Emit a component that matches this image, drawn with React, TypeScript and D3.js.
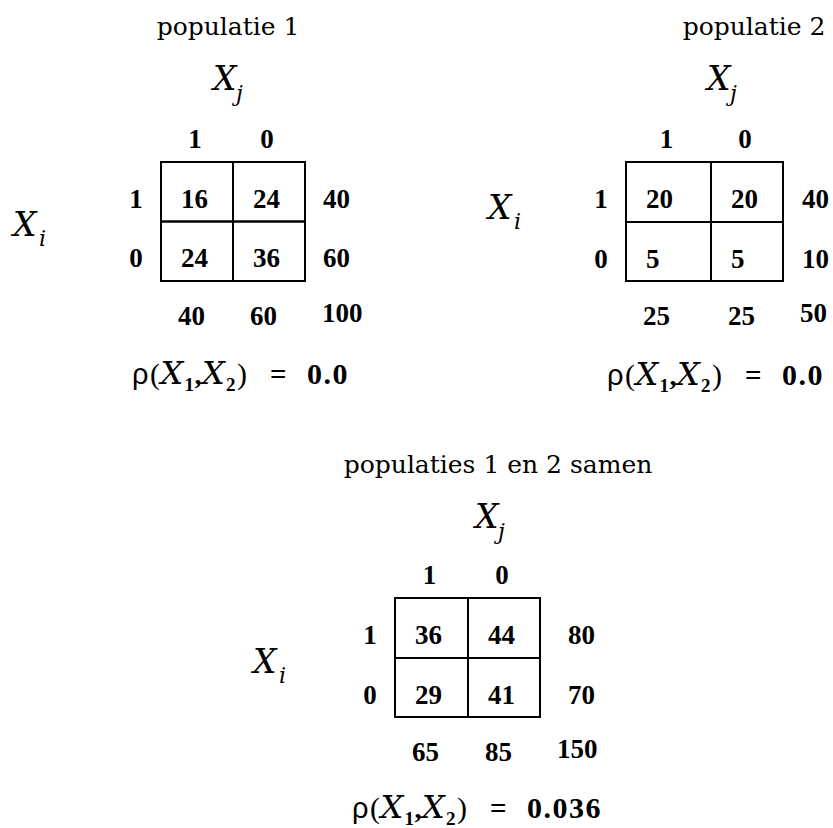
import { useEffect, useRef } from "react";
import * as d3 from "d3";

// categories of X_i (rows) and X_j (columns)
const rowCats = ["1", "0"];
const colCats = ["1", "0"];

const titles = ["populatie 1", "populatie 2", "populaties 1 en 2 samen"];

// cell counts per panel [row][col]
const pop1Counts = [
  [16, 24],
  [24, 36],
];
const pop2Counts = [
  [20, 20],
  [5, 5],
];
const samenCounts = [
  [36, 44],
  [29, 41],
];

const pop1RowTotals = [40, 60];
const pop1ColTotals = [40, 60];
const pop2RowTotals = [40, 10];
const pop2ColTotals = [25, 25];
const samenRowTotals = [80, 70];
const samenColTotals = [65, 85];
const grandTotals = [100, 50, 150];

const rhoValues = ["0.0", "0.0", "0.036"];

// layout per panel (pixels)
const layouts = [
  {
    cols: [161, 233, 305],
    rows: [162, 221.5, 281],
    title: [228, 35],
    xj: [213, 90],
    xi: [13, 236],
    rowTotalDx: 18,
    rho: [132, 384],
  },
  {
    cols: [626, 711, 783],
    rows: [162, 222, 281],
    title: [754, 35],
    xj: [707, 90],
    xi: [488, 219],
    rowTotalDx: 19,
    rho: [607, 385],
  },
  {
    cols: [395, 468, 540],
    rows: [598, 658, 717],
    title: [498, 473],
    xj: [475, 528],
    xi: [253, 673],
    rowTotalDx: 28,
    rho: [352, 818],
  },
];

const serif = "'Liberation Serif', 'Times New Roman', serif";
const wide = "'DejaVu Serif', serif";

const App = () => {
  const svgRef = useRef(null);

  useEffect(() => {
    const svg = d3.select(svgRef.current);
    svg.selectAll("*").remove();

    const panels = [
      { counts: pop1Counts, rowTotals: pop1RowTotals, colTotals: pop1ColTotals },
      { counts: pop2Counts, rowTotals: pop2RowTotals, colTotals: pop2ColTotals },
      { counts: samenCounts, rowTotals: samenRowTotals, colTotals: samenColTotals },
    ];

    panels.forEach((p, k) => {
      const lay = layouts[k];
      const x = d3.scaleLinear().domain([0, 1, 2]).range(lay.cols);
      const y = d3.scaleLinear().domain([0, 1, 2]).range(lay.rows);
      const g = svg.append("g");

      const num = (sel) =>
        sel
          .attr("font-family", serif)
          .attr("font-weight", "bold")
          .attr("font-size", 27)
          .attr("fill", "#000");

      const italicX = (sel, sub, subDx, subDy) => {
        sel
          .append("text")
          .attr("font-family", wide)
          .attr("font-style", "italic")
          .attr("font-size", 33)
          .text("X");
        sel
          .append("text")
          .attr("x", subDx)
          .attr("y", subDy)
          .attr("font-family", wide)
          .attr("font-style", "italic")
          .attr("font-size", 22)
          .text(sub);
      };

      // title
      g.append("text")
        .attr("x", lay.title[0])
        .attr("y", lay.title[1])
        .attr("text-anchor", "middle")
        .attr("font-family", wide)
        .attr("font-size", 25)
        .text(titles[k]);

      // axis variable labels
      italicX(
        g.append("g").attr("transform", `translate(${lay.xj[0]},${lay.xj[1]})`),
        "j",
        23,
        11
      );
      italicX(
        g.append("g").attr("transform", `translate(${lay.xi[0]},${lay.xi[1]})`),
        "i",
        26,
        10
      );

      // column headers
      g.selectAll(".colhead")
        .data(colCats)
        .join("text")
        .attr("x", (d, i) => (x(i) + x(i + 1)) / 2 - 2)
        .attr("y", y(0) - 14)
        .attr("text-anchor", "middle")
        .call(num)
        .text((d) => d);

      // row labels
      g.selectAll(".rowhead")
        .data(rowCats)
        .join("text")
        .attr("x", x(0) - 25)
        .attr("y", (d, i) => y(i) + 45.5)
        .attr("text-anchor", "middle")
        .call(num)
        .text((d) => d);

      // cells
      const cells = p.counts.flatMap((row, r) => row.map((v, c) => ({ r, c, v })));
      g.selectAll("rect")
        .data(cells)
        .join("rect")
        .attr("x", (d) => x(d.c))
        .attr("y", (d) => y(d.r))
        .attr("width", (d) => x(d.c + 1) - x(d.c))
        .attr("height", (d) => y(d.r + 1) - y(d.r))
        .attr("fill", "none")
        .attr("stroke", "#000")
        .attr("stroke-width", 2);

      g.selectAll(".cellval")
        .data(cells)
        .join("text")
        .attr("x", (d) => x(d.c) + 20)
        .attr("y", (d) => y(d.r) + 45.5)
        .call(num)
        .text((d) => d.v);

      // row totals
      g.selectAll(".rowtot")
        .data(p.rowTotals)
        .join("text")
        .attr("x", x(2) + lay.rowTotalDx)
        .attr("y", (d, i) => y(i) + 45.5)
        .call(num)
        .text((d) => d);

      // column totals
      g.selectAll(".coltot")
        .data(p.colTotals)
        .join("text")
        .attr("x", (d, i) => x(i) + 17)
        .attr("y", y(2) + 44)
        .call(num)
        .text((d) => d);

      // grand total
      g.append("text")
        .attr("x", x(2) + 17)
        .attr("y", y(2) + 41)
        .call(num)
        .text(grandTotals[k]);

      // correlation line: rho (X1,X2) = value
      const rho = g.append("g").attr("transform", `translate(${lay.rho[0]},${lay.rho[1]})`);
      rho.append("text")
        .attr("x", 0)
        .attr("font-family", "'Liberation Sans', sans-serif")
        .attr("font-size", 29)
        .text("ρ");
      const parts = [
        { t: "(", dx: 18, y: 0, font: serif, style: "normal", weight: "normal", size: 30 },
        { t: "X", dx: 28.5, y: 0, font: wide, style: "italic", weight: "normal", size: 32 },
        { t: "1", dx: 52.5, y: 7, font: serif, style: "normal", weight: "bold", size: 19 },
        { t: ",", dx: 62.5, y: 0, font: serif, style: "normal", weight: "bold", size: 28 },
        { t: "X", dx: 70, y: 0, font: wide, style: "italic", weight: "normal", size: 32 },
        { t: "2", dx: 94, y: 7, font: serif, style: "normal", weight: "bold", size: 19 },
        { t: ")", dx: 105, y: 0, font: serif, style: "normal", weight: "normal", size: 30 },
        { t: "=", dx: 138, y: 0, font: serif, style: "normal", weight: "bold", size: 29 },
      ];
      rho.selectAll(".part")
        .data(parts)
        .join("text")
        .attr("x", (d) => d.dx)
        .attr("y", (d) => d.y)
        .attr("font-family", (d) => d.font)
        .attr("font-style", (d) => d.style)
        .attr("font-weight", (d) => d.weight)
        .attr("font-size", (d) => d.size)
        .text((d) => d.t);
      rho.append("text")
        .attr("x", 175)
        .attr("font-family", serif)
        .attr("font-weight", "bold")
        .attr("font-size", 30)
        .attr("letter-spacing", 1.5)
        .text(rhoValues[k]);
    });
  }, []);

  return (
    <svg
      ref={svgRef}
      width={833}
      height={828}
      style={{ position: "absolute", left: 0, top: 0, background: "#fff" }}
    />
  );
};

export default App;
